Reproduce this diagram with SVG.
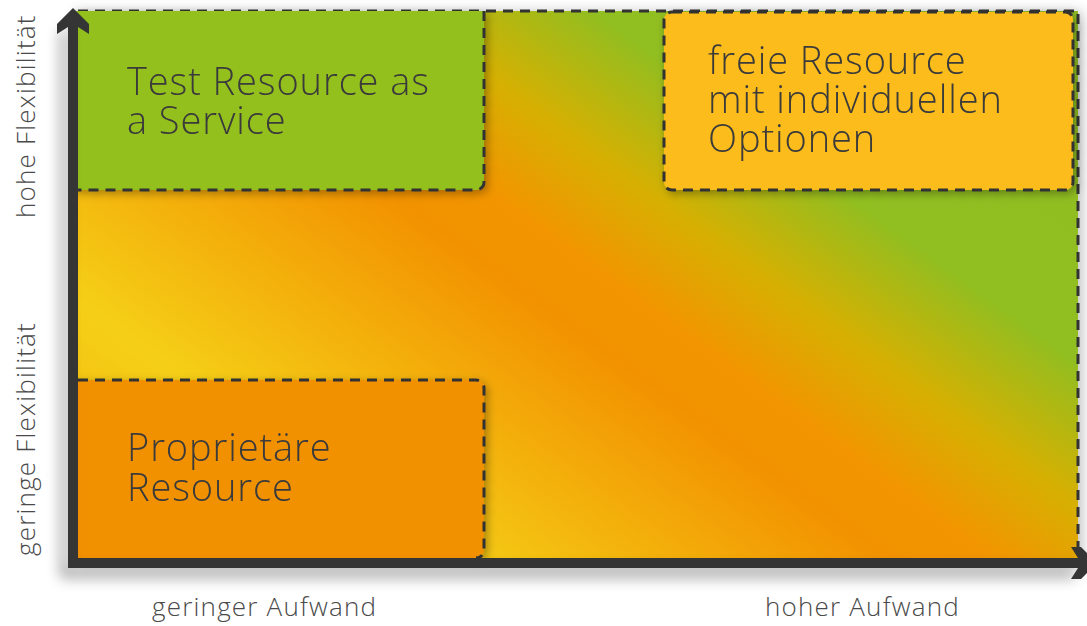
<svg xmlns="http://www.w3.org/2000/svg" width="1087" height="626" viewBox="0 0 1087 626">
  <style>
    .dash { fill: none; stroke: #333333; stroke-width: 3; stroke-dasharray: 10 7; }
    .label { font-family: "Open Sans", "Liberation Sans", sans-serif; font-weight: 300; fill: #3a3a3a; font-size: 38px; letter-spacing: 0.9px; }
    .axislabel { font-family: "Open Sans", "Liberation Sans", sans-serif; font-weight: 300; fill: #4a4a4a; font-size: 26px; letter-spacing: 1.2px; }
    .axis { fill: #353535; }
  </style>
  <defs>
    <!-- diagonal colour field: yellow low-left, orange band, green high-right -->
    <linearGradient id="field" gradientUnits="userSpaceOnUse" x1="78" y1="558" x2="688" y2="-280">
      <stop offset="0" stop-color="#f3b20c"/>
      <stop offset="0.2" stop-color="#f5cf17"/>
      <stop offset="0.46" stop-color="#f29200"/>
      <stop offset="0.52" stop-color="#f29500"/>
      <stop offset="0.61" stop-color="#d6b002"/>
      <stop offset="0.72" stop-color="#91be20"/>
      <stop offset="1" stop-color="#8fbe22"/>
    </linearGradient>
    <filter id="shadow" x="-10%" y="-10%" width="130%" height="130%">
      <feDropShadow dx="3" dy="3" stdDeviation="4" flood-color="#000000" flood-opacity="0.3"/>
    </filter>
    <filter id="axisShadow" x="-10%" y="-10%" width="130%" height="130%">
      <feGaussianBlur stdDeviation="7"/>
    </filter>
  </defs>

  <rect width="1087" height="626" fill="#ffffff"/>

  <!-- plot area -->
  <g id="plot">
    <rect x="76" y="12" width="1006" height="552" fill="#000" opacity="0.25" filter="url(#axisShadow)"/>
    <rect x="72" y="11" width="1006" height="550" fill="url(#field)"/>
    <path class="dash" d="M78 11 H1078 V558"/>
  </g>

  <!-- quadrant boxes -->
  <g id="box-taas" filter="url(#shadow)">
    <path d="M72 11 H484 V182 A8 8 0 0 1 476 190 H72 Z" fill="#93c01f"/>
    <path class="dash" d="M484 11 V182 A8 8 0 0 1 476 190 H78"/>
    <text class="label" x="127" y="95">Test Resource as</text>
    <text class="label" x="127" y="134">a Service</text>
  </g>

  <g id="box-free" filter="url(#shadow)">
    <rect x="664" y="12" width="409" height="178" rx="8" fill="#fcbc1b"/>
    <rect class="dash" x="664" y="12" width="409" height="178" rx="8"/>
    <text class="label" x="708" y="74">freie Resource</text>
    <text class="label" x="708" y="113">mit individuellen</text>
    <text class="label" x="708" y="152">Optionen</text>
  </g>

  <g id="box-prop" filter="url(#shadow)">
    <path d="M72 380 H476 A8 8 0 0 1 484 388 V550 A8 8 0 0 1 476 558 H72 Z" fill="#f29100"/>
    <path class="dash" d="M78 380 H476 A8 8 0 0 1 484 388 V550 A8 8 0 0 1 476 558"/>
    <text class="label" x="127" y="461">Proprietäre</text>
    <text class="label" x="127" y="501">Resource</text>
  </g>

  <!-- axes -->
  <g id="axes">
    <path d="M68 30 V568 H1075 V578 H60 V30 Z" fill="#000" opacity="0.35" filter="url(#axisShadow)"/>
    <rect class="axis" x="68" y="24" width="10" height="544"/>
    <rect class="axis" x="68" y="558" width="1010" height="10"/>
    <polygon class="axis" points="73,8 89,24 89,34 78,27 68,27 57,34 57,24"/>
    <polygon class="axis" points="1097,563 1081,547 1071,547 1078,558 1078,568 1071,579 1081,579"/>
  </g>

  <!-- axis captions -->
  <g id="axis-labels">
    <text class="axislabel" x="152" y="616">geringer Aufwand</text>
    <text class="axislabel" x="765" y="616">hoher Aufwand</text>
    <text class="axislabel" transform="translate(35 218) rotate(-90)">hohe Flexibilität</text>
    <text class="axislabel" transform="translate(35 556) rotate(-90)">geringe Flexibilität</text>
  </g>
</svg>
